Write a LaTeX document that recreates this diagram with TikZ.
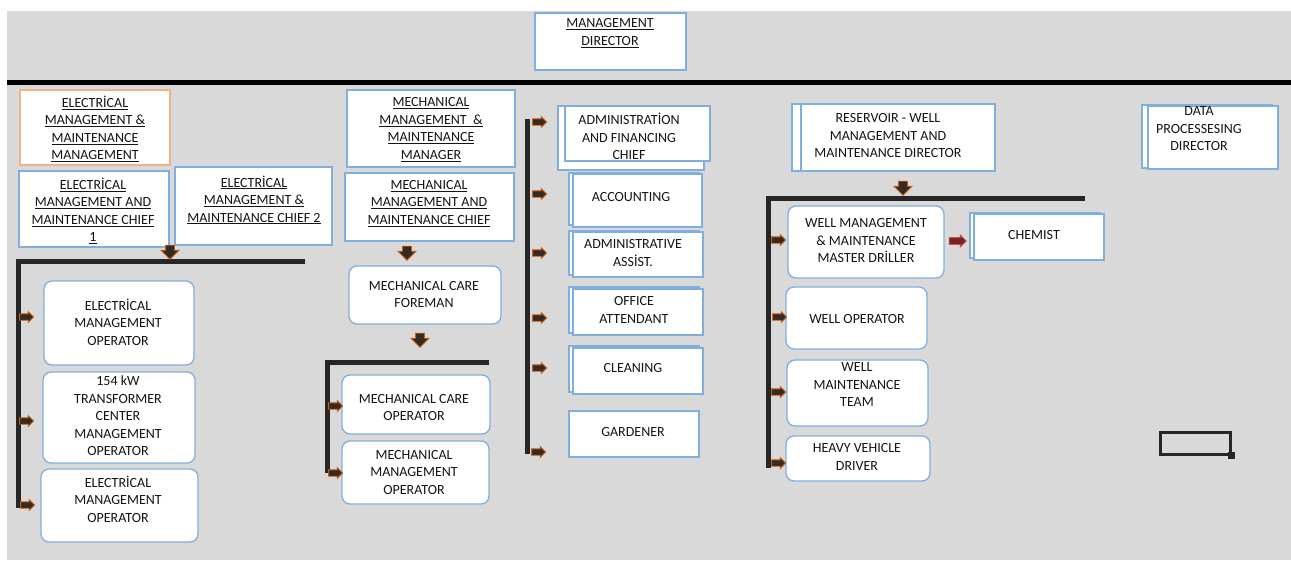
\documentclass[tikz,border=0pt]{standalone}
\usepackage{fontspec}
\setmainfont{Carlito}
\usetikzlibrary{shapes.arrows}

\definecolor{bggrey}{RGB}{217,217,217}
\definecolor{boxblue}{RGB}{128,174,222}
\definecolor{boxorange}{RGB}{244,177,131}
\definecolor{bardark}{RGB}{38,38,38}
\definecolor{txt}{RGB}{20,20,20}
\definecolor{arrfill}{RGB}{52,42,36}
\definecolor{arredge}{RGB}{197,90,17}
\definecolor{redfill}{RGB}{125,32,32}
\definecolor{rededge}{RGB}{192,80,77}

% underlined heading line
\newcommand\ulx[1]{\underline{#1}}
% box given by its corners: style, name, x1, y1, x2, y2
\newcommand\orgbox[6]{\node[#1, minimum width={(#5-#3)*1pt}, minimum height={(#6-#4)*1pt}] (#2) at ({(#3+#5)/2},{(#4+#6)/2}) {};}

\tikzset{
  bx/.style={draw=boxblue, fill=white, line width=1.3pt, inner sep=0pt, outer sep=0pt},
  rbx/.style={bx, rounded corners=8pt},
  obx/.style={bx, draw=boxorange},
  lbl/.style={align=center, text=txt, inner sep=0pt, font=\fontsize{14}{17.5}\selectfont},
  bar/.style={draw=bardark, line width=5pt},
  rarr/.style={single arrow, draw=arredge, fill=arrfill, line width=0.9pt,
    text height=5.5pt, text depth=0pt, inner sep=0pt, single arrow head extend=2.2pt,
    single arrow tip angle=90, minimum height=14pt},
  darr/.style={rarr, rotate=-90, text height=8pt, single arrow head extend=4.5pt,
    minimum height=14pt},
  redarr/.style={rarr, draw=rededge, fill=redfill, text height=6pt,
    single arrow head extend=2.5pt, minimum height=17pt}
}

\begin{document}
\begin{tikzpicture}[x=1pt, y=-1pt]
\useasboundingbox (0,0) rectangle (1291,560);
\fill[white] (0,0) rectangle (1291,560);
\fill[bggrey] (7,11) rectangle (1291,560);

% top level
\orgbox{bx}{md}{535}{13}{686}{70}
\node[lbl] (md-t) at (610,33) {\ulx{MANAGEMENT}\\\ulx{DIRECTOR}};
\coordinate (rule-w) at (7,82);
\coordinate (rule-e) at (1291,82);
\draw[line width=5pt, black] (rule-w) -- (rule-e);

% electrical branch
\orgbox{obx}{emm}{20}{90}{170}{165}
\node[lbl] (emm-t) at (95,129) {\ulx{ELECTRİCAL}\\\ulx{MANAGEMENT \&}\\\ulx{MAINTENANCE}\\\ulx{MANAGEMENT}};
\orgbox{bx}{ec1}{19}{171}{169}{247}
\node[lbl] (ec1-t) at (93,211) {\ulx{ELECTRİCAL}\\\ulx{MANAGEMENT AND}\\\ulx{MAINTENANCE CHIEF}\\\ulx{1}};
\orgbox{bx}{ec2}{175}{167}{332}{245}
\node[lbl] (ec2-t) at (254,200) {\ulx{ELECTRİCAL}\\\ulx{MANAGEMENT \&}\\\ulx{MAINTENANCE CHIEF 2}};
\coordinate (eb-e) at (305,261);
\coordinate (eb-s) at (18,508);
\draw[bar] (eb-e) -| (eb-s);
\node[darr] (ed) at (170,250) {};
\orgbox{rbx}{eo1}{44}{281}{194}{365}
\node[lbl] (eo1-t) at (118,322) {ELECTRİCAL\\MANAGEMENT\\OPERATOR};
\orgbox{rbx}{tc}{43}{372}{195}{463}
\node[lbl] (tc-t) at (118,416) {154 kW\\TRANSFORMER\\CENTER\\MANAGEMENT\\OPERATOR};
\orgbox{rbx}{eo2}{41}{469}{198}{542}
\node[lbl] (eo2-t) at (118,499) {ELECTRİCAL\\MANAGEMENT\\OPERATOR};
\node[rarr] (ea1) at (25,317) {};
\node[rarr] (ea2) at (25,421) {};
\node[rarr] (ea3) at (26,505) {};

% mechanical branch
\orgbox{bx}{mmm}{347}{90}{515}{167}
\node[lbl] (mmm-t) at (431,129.5) {\ulx{MECHANICAL}\\\ulx{MANAGEMENT\ \ \&}\\\ulx{MAINTENANCE}\\\ulx{MANAGER}};
\orgbox{bx}{mc}{345}{173}{514}{241}
\node[lbl] (mc-t) at (429,203.5) {\ulx{MECHANICAL}\\\ulx{MANAGEMENT AND}\\\ulx{MAINTENANCE CHIEF}};
\node[darr] (md1) at (407,251) {};
\orgbox{rbx}{mf}{349}{266}{501}{324}
\node[lbl] (mf-t) at (424,294.5) {MECHANICAL CARE\\FOREMAN};
\node[darr] (md2) at (420,338) {};
\coordinate (mb-e) at (489,362);
\coordinate (mb-s) at (327,473);
\draw[bar] (mb-e) -| (mb-s);
\orgbox{rbx}{mco}{342}{375}{490}{434}
\node[lbl] (mco-t) at (414,407.5) {MECHANICAL CARE\\OPERATOR};
\orgbox{rbx}{mmo}{342}{441}{489}{504}
\node[lbl] (mmo-t) at (414,472) {MECHANICAL\\MANAGEMENT\\OPERATOR};
\node[rarr] (ma1) at (334,406) {};
\node[rarr] (ma2) at (334,473) {};

% administration branch
\coordinate (ab-n) at (527,119);
\coordinate (ab-s) at (527,454);
\draw[bar] (ab-n) -- (ab-s);
\orgbox{bx}{afc-b}{558}{106}{704}{170}
\orgbox{bx}{afc}{565}{106}{710}{161}
\node[lbl] (afc-t) at (629,136.5) {ADMINISTRATİON\\AND FINANCING\\CHIEF};
\orgbox{bx}{acc-b}{569}{173}{699}{225}
\orgbox{bx}{acc}{573}{174}{702}{227}
\node[lbl] (acc-t) at (631,197) {ACCOUNTING};
\orgbox{bx}{aas-b}{569}{231}{699}{275}
\orgbox{bx}{aas}{573}{232}{703}{277}
\node[lbl] (aas-t) at (633,253) {ADMINISTRATIVE\\ASSİST.};
\orgbox{bx}{oa-b}{569}{287}{699}{333}
\orgbox{bx}{oa}{573}{289}{703}{335}
\node[lbl] (oa-t) at (634,310) {OFFICE\\ATTENDANT};
\orgbox{bx}{cl-b}{569}{346}{699}{392}
\orgbox{bx}{cl}{573}{348}{703}{394}
\node[lbl] (cl-t) at (633,368) {CLEANING};
\orgbox{bx}{gd}{569}{411}{699}{457}
\node[lbl] (gd-t) at (633,432) {GARDENER};
\node[rarr] (aa1) at (538,122) {};
\node[rarr] (aa2) at (538,194) {};
\node[rarr] (aa3) at (538,253) {};
\node[rarr] (aa4) at (538,318) {};
\node[rarr] (aa5) at (538,368) {};
\node[rarr] (aa6) at (537,452) {};

% reservoir and well branch
\orgbox{bx}{rw-b}{792}{104}{986}{171}
\orgbox{bx}{rw}{801}{104}{995}{171}
\node[lbl] (rw-t) at (888,136) {RESERVOIR - WELL\\MANAGEMENT AND\\MAINTENANCE DIRECTOR};
\node[darr] (rd) at (903,186) {};
\coordinate (rb-e) at (1085,198);
\coordinate (rb-s) at (768,468);
\draw[bar] (rb-e) -| (rb-s);
\orgbox{rbx}{wm}{788}{206}{944}{278}
\node[lbl] (wm-t) at (866,241) {WELL MANAGEMENT\\\& MAINTENANCE\\MASTER DRİLLER};
\node[redarr] (ca) at (956,241) {};
\orgbox{bx}{ch-b}{970}{213}{1100}{258}
\orgbox{bx}{ch}{974}{214}{1104}{260}
\node[lbl] (ch-t) at (1034,235) {CHEMIST};
\orgbox{rbx}{wo}{786}{287}{927}{349}
\node[lbl] (wo-t) at (857,319) {WELL OPERATOR};
\orgbox{rbx}{wt}{787}{360}{928}{426}
\node[lbl] (wt-t) at (857,385) {WELL\\MAINTENANCE\\TEAM};
\orgbox{rbx}{hv}{786}{436}{930}{481}
\node[lbl] (hv-t) at (857,457) {HEAVY VEHICLE\\DRIVER};
\node[rarr] (ra1) at (777,240) {};
\node[rarr] (ra2) at (778,317) {};
\node[rarr] (ra3) at (777,392) {};
\node[rarr] (ra4) at (777,463) {};

% data processing
\orgbox{bx}{dp-b}{1142}{105}{1272}{168}
\orgbox{bx}{dp}{1148}{106}{1278}{169}
\node[lbl] (dp-t) at (1199,129) {DATA\\PROCESSESING\\DIRECTOR};

% empty frame with its corner handle
\node[draw=bardark, line width=3pt, minimum width=70pt, minimum height=22pt, inner sep=0pt] (fr) at (1195,443) {};
\fill[bardark] (fr.south east) ++(-3.5,-3.5) rectangle ++(7,7);
\end{tikzpicture}
\end{document}
